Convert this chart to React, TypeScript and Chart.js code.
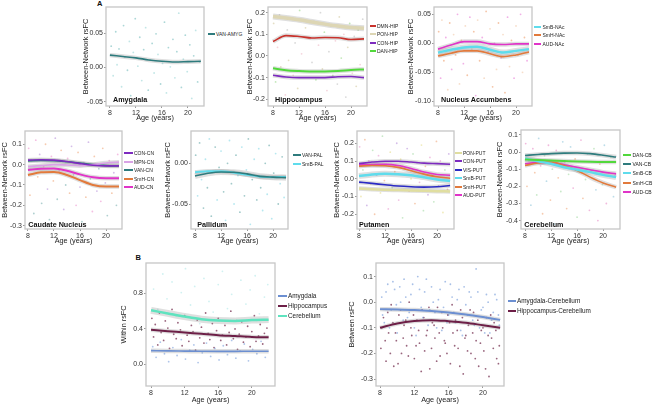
import React, { useEffect, useRef } from "react";
import { Chart, registerables } from "chart.js";

Chart.register(...registerables);

const FONT = "'Liberation Sans', Arial, Helvetica, sans-serif";

// ---------- shared axis values ----------
const AGE = [8, 10, 12, 14, 16, 18, 20, 22];
const AGE_TICKS = [8, 12, 16, 20];

// ---------- colours ----------
const C_VAN = "#2e7b7d";
const C_DMN = "#c8322c";
const C_PON = "#ddd6b4";
const C_PON_PUT = "#e0dea0";
const C_CON = "#7d2bbf";
const C_DAN = "#52d83c";
const C_SMB = "#5fdcec";
const C_SMH = "#e27a3c";
const C_AUD = "#e034c8";
const C_MPN = "#d9a3e6";
const C_VIS = "#2b2bc4";
const C_B_AMY = "#6c8fd1";
const C_B_HIP = "#6d1f47";
const C_B_CER = "#5fe3bf";

// ---------- Panel A: Amygdala ----------
const VAN_AMYG = [0.018, 0.016, 0.014, 0.011, 0.009, 0.008, 0.0085, 0.009];
const AMYG_Y_TICKS = [-0.05, 0, 0.05];
const AMYG_DOTS: [number, number][] = [[8.2,0.031],[8.5,-0.012],[8.9,0.052],[9.1,0.004],[9.4,0.027],[9.8,-0.028],[10.1,0.061],[10.3,0.015],[10.7,-0.004],[11.0,0.038],[11.2,-0.041],[11.6,0.022],[11.9,0.071],[12.3,0.002],[12.6,0.044],[12.9,-0.019],[13.2,0.026],[13.5,0.058],[13.9,-0.033],[14.2,0.011],[14.5,0.035],[14.8,-0.008],[15.1,0.049],[15.4,0.019],[15.8,-0.024],[16.1,0.006],[16.4,0.066],[16.7,-0.037],[17.0,0.029],[17.3,0.001],[17.7,0.041],[18.0,-0.015],[18.3,0.023],[18.6,0.079],[19.0,-0.029],[19.3,0.012],[19.6,0.047],[19.9,-0.006],[20.3,0.033],[20.6,-0.045],[20.9,0.017],[21.2,0.054],[21.5,-0.021],[21.8,0.008]];

// ---------- Panel A: Hippocampus ----------
const DMN_HIP = [0.067, 0.094, 0.09, 0.083, 0.085, 0.084, 0.076, 0.079];
const PON_HIP = [0.182, 0.175, 0.167, 0.157, 0.147, 0.138, 0.131, 0.128];
const CON_HIP = [-0.089, -0.097, -0.1, -0.1, -0.1, -0.096, -0.095, -0.1];
const DAN_HIP = [-0.057, -0.066, -0.07, -0.072, -0.072, -0.07, -0.065, -0.062];
const HIP_Y_TICKS = [-0.2, -0.1, 0, 0.1, 0.2];
const HIP_DOTS: [number, number][] = [[8.1,0.15],[8.4,-0.12],[8.7,0.04],[9.0,0.19],[9.2,-0.05],[9.5,0.09],[9.9,-0.18],[10.2,0.12],[10.4,-0.02],[10.8,0.17],[11.1,-0.09],[11.4,0.06],[11.8,-0.15],[12.1,0.21],[12.4,0.01],[12.7,-0.07],[13.0,0.13],[13.3,-0.2],[13.7,0.08],[14.0,-0.03],[14.3,0.16],[14.6,-0.11],[15.0,0.05],[15.3,0.2],[15.6,-0.06],[15.9,0.11],[16.3,-0.16],[16.6,0.02],[16.9,0.14],[17.2,-0.09],[17.6,0.07],[17.9,-0.13],[18.2,0.18],[18.5,-0.01],[18.9,0.1],[19.2,-0.19],[19.5,0.04],[19.8,0.15],[20.2,-0.08],[20.5,0.09],[20.8,-0.14],[21.1,0.12],[21.4,-0.04],[21.8,0.17]];

// ---------- Panel A: Nucleus Accumbens ----------
const SMB_NAC = [-0.016, -0.011, -0.007, -0.006, -0.011, -0.016, -0.013, -0.010];
const SMH_NAC = [-0.022, -0.017, -0.013, -0.013, -0.018, -0.023, -0.020, -0.015];
const AUD_NAC = [-0.010, -0.003, 0.003, 0.003, -0.001, -0.002, -0.001, -0.001];
const NAC_Y_TICKS = [-0.1, -0.05, 0, 0.05];
const NAC_DOTS: [number, number][] = [[8.1,0.02],[8.4,-0.06],[8.6,0.04],[8.9,-0.03],[9.2,0.01],[9.5,-0.08],[9.8,0.035],[10.1,-0.045],[10.4,0.015],[10.7,-0.02],[11.0,0.05],[11.3,-0.07],[11.6,0.005],[11.9,-0.035],[12.2,0.03],[12.5,-0.055],[12.9,0.045],[13.2,-0.01],[13.5,0.02],[13.8,-0.09],[14.1,0.04],[14.4,-0.03],[14.8,0.01],[15.1,-0.06],[15.4,0.055],[15.7,-0.015],[16.0,0.025],[16.4,-0.075],[16.7,0.0],[17.0,-0.045],[17.3,0.035],[17.7,-0.025],[18.0,0.015],[18.3,-0.085],[18.7,0.045],[19.0,-0.04],[19.3,0.005],[19.7,-0.06],[20.0,0.03],[20.3,-0.02],[20.7,0.05],[21.0,-0.05],[21.3,0.01],[21.7,-0.03]];

// ---------- Panel A: Caudate Nucleus ----------
const CON_CN = [0.022, 0.024, 0.022, 0.015, 0.005, -0.003, -0.006, -0.006];
const MPN_CN = [-0.01, -0.005, 0.0, -0.002, -0.005, 0.0, 0.008, 0.012];
const VAN_CN = [0.018, 0.02, 0.019, 0.014, 0.008, 0.0, -0.005, -0.007];
const SMH_CN = [-0.051, -0.038, -0.036, -0.051, -0.076, -0.1, -0.108, -0.108];
const AUD_CN = [-0.027, -0.02, -0.019, -0.03, -0.048, -0.062, -0.067, -0.067];
const CN_Y_TICKS = [-0.3, -0.2, -0.1, 0, 0.1];
const CN_DOTS: [number, number][] = [[8.1,0.08],[8.3,-0.15],[8.6,0.02],[8.9,-0.24],[9.2,0.12],[9.5,-0.06],[9.8,0.05],[10.1,-0.19],[10.4,-0.01],[10.7,0.1],[11.0,-0.12],[11.3,-0.27],[11.6,0.04],[11.9,-0.08],[12.2,0.13],[12.5,-0.17],[12.8,-0.03],[13.1,0.07],[13.5,-0.22],[13.8,-0.1],[14.1,0.03],[14.4,-0.14],[14.7,0.09],[15.0,-0.05],[15.4,-0.2],[15.7,0.06],[16.0,-0.11],[16.3,-0.28],[16.6,0.01],[16.9,-0.16],[17.3,0.11],[17.6,-0.07],[17.9,-0.23],[18.2,0.04],[18.6,-0.13],[18.9,-0.02],[19.2,-0.18],[19.5,0.08],[19.9,-0.09],[20.2,-0.25],[20.5,0.02],[20.9,-0.14],[21.2,-0.04],[21.6,-0.2],[21.8,0.05]];

// ---------- Panel A: Pallidum ----------
const VAN_PAL = [-0.0156, -0.0123, -0.0107, -0.011, -0.013, -0.016, -0.017, -0.0176];
const SMB_PAL = [-0.011, -0.0098, -0.0098, -0.0115, -0.014, -0.0164, -0.017, -0.0168];
const PAL_Y_TICKS = [-0.05, 0];
const PAL_DOTS: [number, number][] = [[8.1,0.01],[8.4,-0.04],[8.7,0.025],[9.0,-0.02],[9.3,-0.055],[9.6,0.005],[9.9,-0.03],[10.2,0.03],[10.5,-0.065],[10.8,-0.01],[11.1,0.02],[11.4,-0.045],[11.7,-0.005],[12.0,0.015],[12.4,-0.035],[12.7,-0.07],[13.0,0.0],[13.3,0.028],[13.6,-0.025],[14.0,-0.05],[14.3,0.01],[14.6,-0.015],[14.9,-0.06],[15.2,0.02],[15.6,-0.04],[15.9,-0.008],[16.2,0.03],[16.5,-0.075],[16.8,-0.02],[17.1,0.005],[17.5,-0.045],[17.8,0.018],[18.1,-0.03],[18.4,-0.058],[18.8,0.0],[19.1,-0.038],[19.4,0.022],[19.8,-0.068],[20.1,-0.012],[20.4,0.012],[20.8,-0.05],[21.1,-0.025],[21.4,0.008],[21.7,-0.042]];

// ---------- Panel A: Putamen ----------
const PON_PUT = [-0.055, -0.059, -0.062, -0.064, -0.066, -0.068, -0.07, -0.072];
const CON_PUT = [0.085, 0.094, 0.099, 0.099, 0.094, 0.088, 0.085, 0.082];
const VIS_PUT = [-0.019, -0.026, -0.034, -0.041, -0.045, -0.047, -0.045, -0.038];
const SMB_PUT = [0.015, 0.024, 0.028, 0.026, 0.02, 0.009, -0.004, -0.013];
const SMH_PUT = [0.071, 0.075, 0.073, 0.064, 0.045, 0.026, 0.011, 0.003];
const AUD_PUT = [0.077, 0.08, 0.081, 0.075, 0.058, 0.038, 0.024, 0.02];
const PUT_Y_TICKS = [-0.2, -0.1, 0, 0.1, 0.2];
const PUT_DOTS: [number, number][] = [[8.1,0.18],[8.3,-0.1],[8.6,0.05],[8.9,0.22],[9.2,-0.15],[9.5,0.1],[9.8,-0.03],[10.1,0.16],[10.4,-0.2],[10.7,0.02],[11.0,0.13],[11.3,-0.08],[11.6,0.24],[11.9,-0.01],[12.2,0.08],[12.5,-0.17],[12.8,0.15],[13.1,-0.05],[13.5,0.04],[13.8,0.2],[14.1,-0.12],[14.4,0.11],[14.7,-0.22],[15.0,0.06],[15.4,0.17],[15.7,-0.07],[16.0,0.0],[16.3,0.14],[16.6,-0.14],[16.9,0.09],[17.3,-0.02],[17.6,0.19],[17.9,-0.18],[18.2,0.07],[18.6,-0.09],[18.9,0.12],[19.2,0.03],[19.5,-0.13],[19.9,0.21],[20.2,-0.04],[20.5,0.1],[20.9,-0.19],[21.2,0.05],[21.6,-0.06],[21.8,0.14]];

// ---------- Panel A: Cerebellum ----------
const DAN_CB = [-0.043, -0.046, -0.049, -0.052, -0.055, -0.057, -0.058, -0.058];
const VAN_CB = [-0.02, -0.014, -0.009, -0.006, -0.005, -0.009, -0.018, -0.029];
const SMB_CB = [-0.037, -0.053, -0.068, -0.088, -0.103, -0.117, -0.133, -0.146];
const SMH_CB = [-0.078, -0.064, -0.058, -0.078, -0.107, -0.146, -0.18, -0.205];
const AUD_CB = [-0.068, -0.06, -0.062, -0.074, -0.088, -0.103, -0.117, -0.127];
const CB_Y_TICKS = [-0.4, -0.3, -0.2, -0.1, 0, 0.1];
const CB_DOTS: [number, number][] = [[8.1,0.05],[8.3,-0.2],[8.6,-0.05],[8.9,-0.31],[9.2,0.02],[9.5,-0.12],[9.8,-0.25],[10.1,0.08],[10.4,-0.08],[10.7,-0.36],[11.0,-0.02],[11.3,-0.17],[11.6,0.04],[11.9,-0.28],[12.2,-0.1],[12.5,-0.42],[12.8,0.01],[13.1,-0.15],[13.5,-0.23],[13.8,0.06],[14.1,-0.06],[14.4,-0.33],[14.7,-0.13],[15.0,0.03],[15.4,-0.21],[15.7,-0.04],[16.0,-0.38],[16.3,-0.09],[16.6,0.07],[16.9,-0.27],[17.3,-0.16],[17.6,-0.01],[17.9,-0.34],[18.2,-0.11],[18.6,0.02],[18.9,-0.22],[19.2,-0.4],[19.5,-0.07],[19.9,-0.19],[20.2,0.04],[20.5,-0.3],[20.9,-0.12],[21.2,-0.03],[21.6,-0.26],[21.8,-0.14]];

// ---------- Panel B: Within ----------
const W_AMYGDALA = [0.155, 0.152, 0.15, 0.148, 0.147, 0.147, 0.148, 0.148];
const W_HIPPOCAMPUS = [0.39, 0.375, 0.36, 0.345, 0.33, 0.32, 0.31, 0.305];
const W_CEREBELLUM = [0.61, 0.575, 0.54, 0.51, 0.495, 0.49, 0.5, 0.505];
const W_Y_TICKS = [0, 0.4, 0.8];
const W_DOTS_CER: [number, number][] = [[8.3,0.85],[8.8,0.62],[9.4,1.02],[9.9,0.74],[10.5,0.93],[11.0,0.55],[11.6,0.81],[12.1,1.08],[12.7,0.67],[13.2,0.88],[13.8,0.46],[14.3,0.97],[14.9,0.71],[15.4,0.59],[16.0,0.9],[16.5,1.05],[17.1,0.63],[17.6,0.79],[18.2,0.5],[18.7,0.95],[19.3,0.68],[19.8,0.84],[20.4,1.0],[20.9,0.57],[21.5,0.76],[21.9,0.9]];
const W_DOTS_HIP: [number, number][] = [[8.1,0.52],[8.3,0.31],[8.5,0.45],[8.8,0.22],[9.0,0.58],[9.2,0.36],[9.5,0.27],[9.7,0.49],[10.0,0.41],[10.2,0.18],[10.5,0.62],[10.7,0.34],[11.0,0.29],[11.2,0.47],[11.5,0.39],[11.7,0.21],[12.0,0.55],[12.3,0.33],[12.5,0.26],[12.8,0.44],[13.0,0.37],[13.3,0.16],[13.5,0.5],[13.8,0.3],[14.0,0.42],[14.3,0.24],[14.5,0.58],[14.8,0.35],[15.0,0.28],[15.3,0.46],[15.5,0.19],[15.8,0.38],[16.0,0.52],[16.3,0.27],[16.5,0.33],[16.8,0.44],[17.0,0.22],[17.3,0.36],[17.5,0.6],[17.8,0.29],[18.0,0.4],[18.3,0.17],[18.5,0.34],[18.8,0.48],[19.0,0.25],[19.3,0.31],[19.5,0.43],[19.8,0.2],[20.0,0.37],[20.3,0.55],[20.5,0.26],[20.8,0.32],[21.0,0.45],[21.3,0.23],[21.5,0.35],[21.8,0.41]];
const W_DOTS_AMY: [number, number][] = [[8.2,0.2],[8.6,0.08],[9.1,0.25],[9.6,0.12],[10.1,0.03],[10.6,0.19],[11.1,0.1],[11.6,0.28],[12.1,0.06],[12.6,0.16],[13.1,0.22],[13.6,0.02],[14.1,0.13],[14.6,0.24],[15.1,0.09],[15.6,0.18],[16.1,0.05],[16.6,0.21],[17.1,0.11],[17.6,0.27],[18.1,0.07],[18.6,0.15],[19.1,0.23],[19.6,0.04],[20.1,0.17],[20.6,0.12],[21.1,0.26],[21.6,0.08]];

// ---------- Panel B: Between ----------
const B_AMY_CER = [-0.027, -0.028, -0.03, -0.034, -0.04, -0.048, -0.058, -0.069];
const B_HIP_CER = [-0.1, -0.083, -0.073, -0.07, -0.074, -0.08, -0.09, -0.1];
const B_Y_TICKS = [-0.3, -0.2, -0.1, 0, 0.1];
const B_DOTS_AMY: [number, number][] = [[8.2,0.02],[8.5,-0.08],[8.9,0.07],[9.3,-0.03],[9.7,0.05],[10.0,-0.12],[10.4,0.0],[10.8,0.09],[11.2,-0.06],[11.6,0.03],[12.0,-0.1],[12.4,0.1],[12.8,-0.02],[13.2,0.04],[13.6,-0.09],[14.0,0.06],[14.4,-0.04],[14.8,0.01],[15.2,-0.11],[15.6,0.08],[16.0,-0.05],[16.4,0.02],[16.8,-0.08],[17.2,0.05],[17.6,-0.13],[18.0,-0.01],[18.4,0.04],[18.8,-0.07],[19.2,0.13],[19.6,-0.1],[20.0,-0.02],[20.4,0.03],[20.8,-0.12],[21.2,-0.04],[21.6,0.01],[21.9,-0.09],
  [8.3,-0.05],[8.7,0.04],[9.1,-0.1],[9.5,0.08],[9.9,-0.01],[10.3,0.06],[10.7,-0.07],[11.0,0.02],[11.4,-0.04],[11.8,0.07],[12.2,-0.13],[12.6,0.05],[13.0,-0.06],[13.4,0.09],[13.8,-0.03],[14.2,0.0],[14.6,-0.1],[15.0,0.05],[15.4,-0.02],[15.8,-0.08],[16.2,0.07],[16.6,-0.04],[17.0,0.01],[17.4,-0.11],[17.8,0.06],[18.2,-0.05],[18.6,0.02],[19.0,-0.09],[19.4,0.04],[19.8,-0.03],[20.2,-0.12],[20.6,0.0],[21.0,-0.07],[21.4,0.03],[21.8,-0.05]];
const B_DOTS_HIP: [number, number][] = [[8.1,-0.18],[8.4,-0.06],[8.7,-0.23],[9.0,-0.12],[9.3,-0.01],[9.6,-0.25],[9.9,-0.15],[10.2,-0.05],[10.5,-0.2],[10.8,-0.09],[11.1,-0.17],[11.4,0.0],[11.7,-0.13],[12.0,-0.22],[12.3,-0.07],[12.6,-0.16],[12.9,-0.03],[13.2,-0.19],[13.5,-0.11],[13.8,-0.26],[14.1,-0.08],[14.4,-0.14],[14.7,-0.02],[15.0,-0.21],[15.3,-0.1],[15.6,-0.16],[15.9,-0.05],[16.2,-0.24],[16.5,-0.12],[16.8,-0.07],[17.1,-0.18],[17.4,-0.03],[17.7,-0.28],[18.0,-0.13],[18.3,-0.09],[18.6,-0.2],[18.9,-0.04],[19.2,-0.15],[19.5,-0.25],[19.8,-0.11],[20.1,-0.19],[20.4,-0.06],[20.7,-0.29],[21.0,-0.14],[21.3,-0.08],[21.6,-0.22],[21.9,-0.17],
  [8.2,-0.1],[8.6,-0.15],[8.9,-0.04],[9.2,-0.2],[9.5,-0.08],[9.8,-0.12],[10.1,-0.24],[10.4,-0.03],[10.7,-0.14],[11.0,-0.07],[11.3,-0.21],[11.6,-0.1],[11.9,-0.05],[12.2,-0.17],[12.5,-0.11],[12.8,-0.27],[13.1,-0.06],[13.4,-0.13],[13.7,-0.02],[14.0,-0.18],[14.3,-0.09],[14.6,-0.23],[14.9,-0.12],[15.2,-0.04],[15.5,-0.15],[15.8,-0.2],[16.1,-0.08],[16.4,-0.01],[16.7,-0.17],[17.0,-0.11],[17.3,-0.25],[17.6,-0.06],[17.9,-0.14],[18.2,-0.19],[18.5,-0.03],[18.8,-0.12],[19.1,-0.22],[19.4,-0.07],[19.7,-0.16],[20.0,-0.1],[20.3,-0.26],[20.6,-0.13],[20.9,-0.05],[21.2,-0.18],[21.5,-0.11],[21.8,-0.24]];

// ---------- layout types ----------
type Series = { label: string; values: number[]; color: string; width?: number; band?: number };
type DotGroup = { points: [number, number][]; colors: string[]; r?: number };
type Panel = {
  left: number; top: number; yW: number; boxW: number; boxH: number; xH: number;
  xMin: number; xMax: number; yMin: number; yMax: number; yTicks: number[]; dec: number;
  yTitle: string; title?: string; titleX?: number; titleY?: number;
  legX: number; legTextX: number; legY: number; legGap: number; legFont: number;
  series: Series[]; dots: DotGroup[];
};

const PAD_TOP = 6;
const PAD_RIGHT = 4;

const PANELS: Panel[] = [
  {
    left: 82, top: 1, yW: 24, boxW: 98, boxH: 99, xH: 16,
    xMin: 7.4, xMax: 22.48, yMin: -0.056, yMax: 0.088, yTicks: AMYG_Y_TICKS, dec: 2,
    yTitle: "Between-Network rsFC", title: "Amygdala", titleX: 113, titleY: 100.2,
    legX: 208, legTextX: 216, legY: 34, legGap: 8.5, legFont: 5,
    series: [{ label: "VAN-AMYG", values: VAN_AMYG, color: C_VAN }],
    dots: [{ points: AMYG_DOTS, colors: ["rgba(90,175,175,0.5)", "rgba(120,200,200,0.45)"] }],
  },
  {
    left: 246, top: 1, yW: 22, boxW: 99, boxH: 99, xH: 16,
    xMin: 7.23, xMax: 22.46, yMin: -0.231, yMax: 0.226, yTicks: HIP_Y_TICKS, dec: 1,
    yTitle: "Between-Network rsFC", title: "Hippocampus", titleX: 275, titleY: 100.2,
    legX: 370, legTextX: 377, legY: 25.7, legGap: 8.4, legFont: 5,
    series: [
      { label: "DMN-HIP", values: DMN_HIP, color: C_DMN },
      { label: "PON-HIP", values: PON_HIP, color: C_PON, width: 3.5, band: 6 },
      { label: "CON-HIP", values: CON_HIP, color: C_CON },
      { label: "DAN-HIP", values: DAN_HIP, color: C_DAN, width: 2 },
    ],
    dots: [{ points: HIP_DOTS, colors: ["rgba(205,195,150,0.55)", "rgba(120,205,100,0.45)", "rgba(230,150,170,0.4)", "rgba(170,170,170,0.45)"] }],
  },
  {
    left: 407, top: 1, yW: 27, boxW: 98, boxH: 99, xH: 16,
    xMin: 7.38, xMax: 22.46, yMin: -0.108, yMax: 0.0626, yTicks: NAC_Y_TICKS, dec: 2,
    yTitle: "Between-Network rsFC", title: "Nucleus Accumbens", titleX: 441, titleY: 100.2,
    legX: 534, legTextX: 542.5, legY: 26.7, legGap: 8.5, legFont: 5,
    series: [
      { label: "SmB-NAc", values: SMB_NAC, color: C_SMB, width: 2.5, band: 6 },
      { label: "SmH-NAc", values: SMH_NAC, color: C_SMH },
      { label: "AUD-NAc", values: AUD_NAC, color: C_AUD },
    ],
    dots: [{ points: NAC_DOTS, colors: ["rgba(235,140,80,0.5)", "rgba(225,80,200,0.45)", "rgba(240,190,150,0.5)"] }],
  },
  {
    left: 1, top: 125, yW: 24, boxW: 97, boxH: 98, xH: 16,
    xMin: 7.54, xMax: 22.46, yMin: -0.316, yMax: 0.165, yTicks: CN_Y_TICKS, dec: 1,
    yTitle: "Between-Network rsFC", title: "Caudate Nucleus", titleX: 28.3, titleY: 224.8,
    legX: 124, legTextX: 134, legY: 153.3, legGap: 8.5, legFont: 5,
    series: [
      { label: "CON-CN", values: CON_CN, color: C_CON },
      { label: "MPN-CN", values: MPN_CN, color: C_MPN },
      { label: "VAN-CN", values: VAN_CN, color: C_VAN },
      { label: "SmH-CN", values: SMH_CN, color: C_SMH, width: 2 },
      { label: "AUD-CN", values: AUD_CN, color: C_AUD, width: 2 },
    ],
    dots: [{ points: CN_DOTS, colors: ["rgba(230,110,190,0.45)", "rgba(235,140,80,0.45)", "rgba(150,90,200,0.4)", "rgba(80,150,150,0.45)"] }],
  },
  {
    left: 164, top: 125, yW: 27, boxW: 97, boxH: 98, xH: 16,
    xMin: 7.38, xMax: 22.3, yMin: -0.0807, yMax: 0.0397, yTicks: PAL_Y_TICKS, dec: 2,
    yTitle: "Between-Network rsFC", title: "Pallidum", titleX: 197.3, titleY: 224.8,
    legX: 293, legTextX: 302, legY: 155.3, legGap: 8.4, legFont: 5,
    series: [
      { label: "VAN-PAL", values: VAN_PAL, color: C_VAN, band: 6 },
      { label: "SmB-PAL", values: SMB_PAL, color: C_SMB, width: 2 },
    ],
    dots: [{ points: PAL_DOTS, colors: ["rgba(70,150,150,0.5)", "rgba(110,210,225,0.5)"] }],
  },
  {
    left: 333, top: 125, yW: 24, boxW: 97, boxH: 98, xH: 16,
    xMin: 7.69, xMax: 22.6, yMin: -0.283, yMax: 0.269, yTicks: PUT_Y_TICKS, dec: 1,
    yTitle: "Between-Network rsFC", title: "Putamen", titleX: 359, titleY: 224.8,
    legX: 455, legTextX: 463, legY: 152.7, legGap: 8.5, legFont: 5,
    series: [
      { label: "PON-PUT", values: PON_PUT, color: C_PON_PUT, width: 2.5 },
      { label: "CON-PUT", values: CON_PUT, color: C_CON },
      { label: "VIS-PUT", values: VIS_PUT, color: C_VIS },
      { label: "SmB-PUT", values: SMB_PUT, color: C_SMB, width: 2.5, band: 6 },
      { label: "SmH-PUT", values: SMH_PUT, color: C_SMH },
      { label: "AUD-PUT", values: AUD_PUT, color: C_AUD },
    ],
    dots: [{ points: PUT_DOTS, colors: ["rgba(225,120,190,0.45)", "rgba(225,215,120,0.5)", "rgba(120,200,120,0.4)", "rgba(235,140,80,0.45)", "rgba(150,90,200,0.4)"] }],
  },
  {
    left: 496, top: 124, yW: 25, boxW: 99, boxH: 99, xH: 16,
    xMin: 7.38, xMax: 22.6, yMin: -0.449, yMax: 0.129, yTicks: CB_Y_TICKS, dec: 1,
    yTitle: "Between-Network rsFC", title: "Cerebellum", titleX: 524.3, titleY: 224.8,
    legX: 623, legTextX: 632.5, legY: 155, legGap: 9.2, legFont: 5,
    series: [
      { label: "DAN-CB", values: DAN_CB, color: C_DAN, width: 2 },
      { label: "VAN-CB", values: VAN_CB, color: C_VAN },
      { label: "SmB-CB", values: SMB_CB, color: C_SMB, width: 2.5, band: 6 },
      { label: "SmH-CB", values: SMH_CB, color: C_SMH },
      { label: "AUD-CB", values: AUD_CB, color: C_AUD },
    ],
    dots: [{ points: CB_DOTS, colors: ["rgba(225,100,180,0.45)", "rgba(235,140,80,0.45)", "rgba(120,200,120,0.4)", "rgba(90,170,200,0.4)"] }],
  },
  {
    left: 120, top: 257, yW: 26, boxW: 129, boxH: 123, xH: 18,
    xMin: 7.4, xMax: 22.76, yMin: -0.244, yMax: 1.144, yTicks: W_Y_TICKS, dec: 1,
    yTitle: "Within rsFC",
    legX: 278, legTextX: 288, legY: 295.7, legGap: 10, legFont: 6.4,
    series: [
      { label: "Amygdala", values: W_AMYGDALA, color: C_B_AMY },
      { label: "Hippocampus", values: W_HIPPOCAMPUS, color: C_B_HIP, width: 2 },
      { label: "Cerebellum", values: W_CEREBELLUM, color: C_B_CER, width: 2.5, band: 7 },
    ],
    dots: [
      { points: W_DOTS_CER, colors: ["rgba(150,225,225,0.45)"] },
      { points: W_DOTS_AMY, colors: ["rgba(110,150,215,0.55)"] },
      { points: W_DOTS_HIP, colors: ["rgba(110,35,70,0.7)"] },
    ],
  },
  {
    left: 348, top: 257, yW: 28, boxW: 128, boxH: 123, xH: 18,
    xMin: 7.53, xMax: 22.45, yMin: -0.327, yMax: 0.153, yTicks: B_Y_TICKS, dec: 1,
    yTitle: "Between rsFC",
    legX: 508, legTextX: 517, legY: 301, legGap: 10, legFont: 6.4,
    series: [
      { label: "Amygdala-Cerebellum", values: B_AMY_CER, color: C_B_AMY, width: 2 },
      { label: "Hippocampus-Cerebellum", values: B_HIP_CER, color: C_B_HIP, width: 2 },
    ],
    dots: [
      { points: B_DOTS_AMY, colors: ["rgba(110,150,215,0.6)"] },
      { points: B_DOTS_HIP, colors: ["rgba(110,35,70,0.7)"] },
    ],
  },
];

const boxPlugin = {
  id: "panelBox",
  afterDatasetsDraw(chart: any) {
    const { ctx, chartArea: a } = chart;
    ctx.save();
    ctx.strokeStyle = "#c6c6c6";
    ctx.lineWidth = 1.3;
    ctx.strokeRect(a.left, a.top, a.right - a.left, a.bottom - a.top);
    ctx.restore();
  },
};

function PanelView({ p }: { p: Panel }) {
  const ref = useRef<HTMLCanvasElement>(null);
  const width = p.yW + p.boxW + PAD_RIGHT;
  const height = PAD_TOP + p.boxH + p.xH;

  useEffect(() => {
    const canvas = ref.current;
    if (!canvas) return;
    const datasets: any[] = [];
    p.series.forEach((s) => {
      const pts = AGE.map((a, j) => ({ x: a, y: s.values[j] }));
      datasets.push({
        data: pts, showLine: true, pointRadius: 0, borderColor: s.color,
        borderWidth: s.width ?? 1.6, cubicInterpolationMode: "monotone", order: 1,
      });
      datasets.push({
        data: pts, showLine: true, pointRadius: 0, borderColor: "rgba(150,150,150,0.3)",
        borderWidth: s.band ?? 4.5, cubicInterpolationMode: "monotone", order: 2,
      });
    });
    p.dots.forEach((g) => {
      datasets.push({
        data: g.points.map(([x, y]) => ({ x, y })),
        showLine: false,
        pointRadius: g.r ?? 0.9,
        pointBorderWidth: 0,
        pointBackgroundColor: (c: any) => g.colors[c.dataIndex % g.colors.length],
        order: 3,
      });
    });

    const tickFont = { family: FONT, size: 7 };
    const titleFont = { family: FONT, size: 7.3 };
    const chart = new Chart(canvas, {
      type: "scatter",
      data: { datasets },
      plugins: [boxPlugin],
      options: {
        responsive: false,
        animation: false,
        devicePixelRatio: 1,
        events: [],
        layout: { padding: { top: PAD_TOP, right: PAD_RIGHT, left: 0, bottom: 0 } },
        plugins: { legend: { display: false }, tooltip: { enabled: false } },
        scales: {
          x: {
            type: "linear", min: p.xMin, max: p.xMax,
            afterBuildTicks: (s: any) => { s.ticks = AGE_TICKS.map((v) => ({ value: v })); },
            afterFit: (s: any) => { s.height = p.xH; },
            ticks: { font: tickFont, color: "#333", padding: 1, maxRotation: 0, autoSkip: false, callback: (v: any) => String(v) },
            grid: { drawOnChartArea: false, tickLength: 2, color: "#999" },
            border: { display: false },
            title: { display: true, text: "Age (years)", font: titleFont, color: "#222", padding: 0 },
          },
          y: {
            type: "linear", min: p.yMin, max: p.yMax,
            afterBuildTicks: (s: any) => { s.ticks = p.yTicks.map((v) => ({ value: v })); },
            afterFit: (s: any) => { s.width = p.yW; },
            ticks: { font: tickFont, color: "#333", padding: 1, autoSkip: false, callback: (v: any) => Number(v).toFixed(p.dec) },
            grid: { drawOnChartArea: false, tickLength: 2, color: "#999" },
            border: { display: false },
            title: { display: true, text: p.yTitle, font: titleFont, color: "#222", padding: 0 },
          },
        },
      } as any,
    });
    return () => chart.destroy();
  }, [p]);

  const swW = p.legTextX - p.legX - 1.5;
  const lh = p.legFont + 3;
  return (
    <>
      <canvas
        ref={ref}
        width={width}
        height={height}
        style={{ position: "absolute", left: p.left, top: p.top, width, height }}
      />
      {p.title && (
        <div style={{
          position: "absolute", left: p.titleX, top: (p.titleY as number) - 5, height: 10, lineHeight: "10px",
          fontSize: 7.2, fontWeight: "bold", color: "#111", whiteSpace: "nowrap",
        }}>{p.title}</div>
      )}
      {p.series.map((s, i) => {
        const cy = p.legY + i * p.legGap;
        return (
          <React.Fragment key={s.label}>
            <div style={{
              position: "absolute", left: p.legX, top: cy - 1, width: swW, height: 2, background: s.color,
            }} />
            <div style={{
              position: "absolute", left: p.legTextX, top: cy - lh / 2, height: lh, lineHeight: `${lh}px`,
              fontSize: p.legFont, color: "#222", whiteSpace: "nowrap",
            }}>{s.label}</div>
          </React.Fragment>
        );
      })}
    </>
  );
}

export default function App() {
  useEffect(() => {
    document.body.style.overflow = "hidden";
  }, []);
  return (
    <div style={{
      position: "absolute", left: 0, top: 0, width: 658, height: 405, overflow: "hidden",
      background: "#fff", fontFamily: FONT,
    }}>
      <div style={{ position: "absolute", left: 97, top: 0, height: 8, lineHeight: "8px", fontSize: 7.5, fontWeight: "bold", color: "#111" }}>A</div>
      <div style={{ position: "absolute", left: 135.5, top: 253.5, height: 8, lineHeight: "8px", fontSize: 7.5, fontWeight: "bold", color: "#111" }}>B</div>
      {PANELS.map((p, i) => <PanelView key={i} p={p} />)}
    </div>
  );
}
